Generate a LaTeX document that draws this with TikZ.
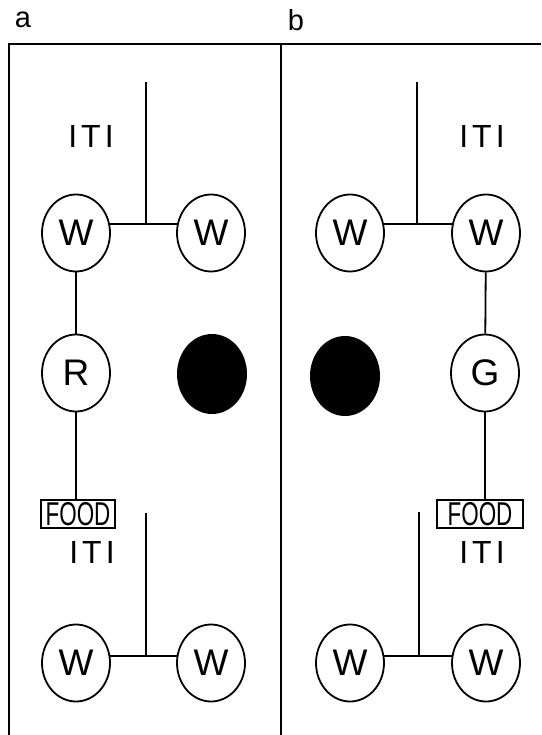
\documentclass[tikz,border=0pt]{standalone}
\usepackage{fontspec}
\setmainfont{Liberation Sans}
\usetikzlibrary{shapes.geometric}
\begin{document}
\begin{tikzpicture}[x=1pt,y=-1pt,line width=1.8pt,
  state/.style={ellipse,draw,minimum width=68pt,minimum height=77pt,inner sep=0pt,font=\fontsize{37}{37}\selectfont},
  blob/.style={ellipse,fill=black,minimum width=70pt,minimum height=80pt,inner sep=0pt},
  foodbox/.style={draw,line width=1.6pt,minimum width=#1,minimum height=28pt,inner sep=0pt,font=\fontsize{33}{33}\selectfont},
  iti/.style={font=\fontsize{32}{32}\selectfont},
  lab/.style={font=\fontsize{29}{29}\selectfont}]
\useasboundingbox (0,0) rectangle (541,735);
% frame
\coordinate (tl) at (9,44);
\coordinate (tr) at (541,44);
\coordinate (bl) at (9,735);
\coordinate (dt) at (281,44);
\coordinate (db) at (281,735);
\draw (bl) -- (tl) -- (tr);
\draw (dt) -- (db);
\node[lab] (la) at (23,20) {a};
\node[lab] (lb) at (296,20) {b};
% ---------- panel a ----------
\node[iti] (itiA1) at (91,136) {I\hspace{4pt}T\hspace{4pt}I};
\node[state] (wA1) at (76,233) {W};
\node[state] (wA2) at (211,233) {W};
\coordinate (tA1) at (146,82);
\draw (wA1.15) -- (wA2.165);
\draw (tA1) -- (tA1 |- wA1.15);
\node[state] (rA) at (76,373) {R};
\node[blob] (bA) at (212,374) {};
\node[foodbox=74pt] (fA) at (78,514) {\scalebox{0.68}[1]{FOOD}};
\draw (wA1) -- (rA);
\draw (rA.south) -- (rA.south |- fA.north);
\node[iti] (itiA2) at (92,552) {I\hspace{4pt}T\hspace{4pt}I};
\node[state] (wA3) at (76,663) {W};
\node[state] (wA4) at (211,663) {W};
\coordinate (tA2) at (146,513);
\draw (wA3.12) -- (wA4.168);
\draw (tA2) -- (tA2 |- wA3.12);
% ---------- panel b ----------
\node[iti] (itiB1) at (482,136) {I\hspace{4pt}T\hspace{4pt}I};
\node[state] (wB1) at (350,233) {W};
\node[state] (wB2) at (486,233) {W};
\coordinate (tB1) at (417,82);
\draw (wB1.15) -- (wB2.165);
\draw (tB1) -- (tB1 |- wB1.15);
\node[state] (gB) at (485,373) {G};
\node[blob] (bB) at (345,376) {};
\node[foodbox=86pt] (fB) at (480,514) {\scalebox{0.68}[1]{FOOD}};
\draw (wB2) -- (gB);
\draw (gB.south) -- (gB.south |- fB.north);
\node[iti] (itiB2) at (482,552) {I\hspace{4pt}T\hspace{4pt}I};
\node[state] (wB3) at (350,663) {W};
\node[state] (wB4) at (486,663) {W};
\coordinate (tB2) at (419,512);
\draw (wB3.12) -- (wB4.168);
\draw (tB2) -- (tB2 |- wB3.12);
\end{tikzpicture}
\end{document}
